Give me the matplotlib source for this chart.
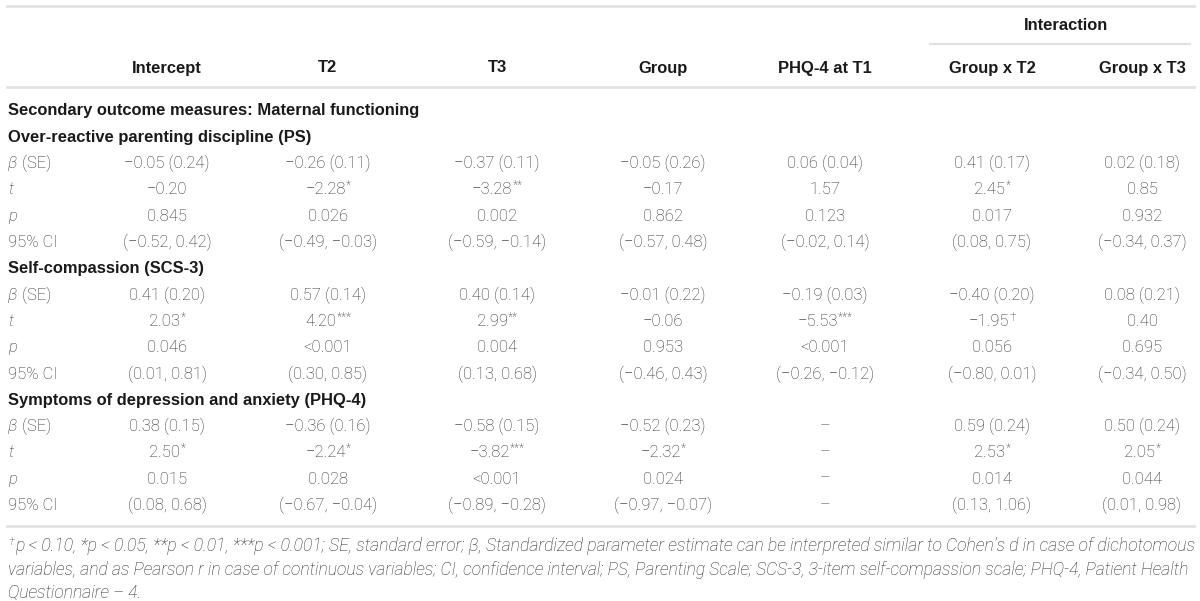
import matplotlib
matplotlib.use("Agg")
from matplotlib import pyplot as plt

# column headers
columns = ["Intercept", "T2", "T3", "Group", "PHQ-4 at T1", "Group x T2", "Group x T3"]
col_x = [167, 328, 497, 663, 825, 992, 1142]

# row labels inside each block
stat_labels = ["β (SE)", "t", "p", "95% CI"]

title_row = "Secondary outcome measures: Maternal functioning"
sections = ["Over-reactive parenting discipline (PS)",
            "Self-compassion (SCS-3)",
            "Symptoms of depression and anxiety (PHQ-4)"]

ps_beta = ["−0.05 (0.24)", "−0.26 (0.11)", "−0.37 (0.11)", "−0.05 (0.26)", "0.06 (0.04)", "0.41 (0.17)", "0.02 (0.18)"]
ps_t = ["−0.20", "−2.28*", "−3.28**", "−0.17", "1.57", "2.45*", "0.85"]
ps_p = ["0.845", "0.026", "0.002", "0.862", "0.123", "0.017", "0.932"]
ps_ci = ["(−0.52, 0.42)", "(−0.49, −0.03)", "(−0.59, −0.14)", "(−0.57, 0.48)", "(−0.02, 0.14)", "(0.08, 0.75)", "(−0.34, 0.37)"]

scs_beta = ["0.41 (0.20)", "0.57 (0.14)", "0.40 (0.14)", "−0.01 (0.22)", "−0.19 (0.03)", "−0.40 (0.20)", "0.08 (0.21)"]
scs_t = ["2.03*", "4.20***", "2.99**", "−0.06", "−5.53***", "−1.95†", "0.40"]
scs_p = ["0.046", "<0.001", "0.004", "0.953", "<0.001", "0.056", "0.695"]
scs_ci = ["(0.01, 0.81)", "(0.30, 0.85)", "(0.13, 0.68)", "(−0.46, 0.43)", "(−0.26, −0.12)", "(−0.80, 0.01)", "(−0.34, 0.50)"]

phq_beta = ["0.38 (0.15)", "−0.36 (0.16)", "−0.58 (0.15)", "−0.52 (0.23)", "–", "0.59 (0.24)", "0.50 (0.24)"]
phq_t = ["2.50*", "−2.24*", "−3.82***", "−2.32*", "–", "2.53*", "2.05*"]
phq_p = ["0.015", "0.028", "<0.001", "0.024", "–", "0.014", "0.044"]
phq_ci = ["(0.08, 0.68)", "(−0.67, −0.04)", "(−0.89, −0.28)", "(−0.97, −0.07)", "–", "(0.13, 1.06)", "(0.01, 0.98)"]

blocks = [[ps_beta, ps_t, ps_p, ps_ci],
          [scs_beta, scs_t, scs_p, scs_ci],
          [phq_beta, phq_t, phq_p, phq_ci]]

footnotes = ["p < 0.10, *p < 0.05, **p < 0.01, ***p < 0.001; SE, standard error; β, Standardized parameter estimate can be interpreted similar to Cohen’s d in case of dichotomous",
             "variables, and as Pearson r in case of continuous variables; CI, confidence interval; PS, Parenting Scale; SCS-3, 3-item self-compassion scale; PHQ-4, Patient Health",
             "Questionnaire – 4."]

W, H = 1200, 601
fig = plt.figure(figsize=(12, 6.01), dpi=100)
ax = fig.add_axes([0, 0, 1, 1])
ax.set_xlim(0, W)
ax.set_ylim(H, 0)
ax.axis("off")
renderer = fig.canvas.get_renderer()

BOLD = dict(family=["Liberation Sans", "DejaVu Sans"], fontweight="bold", color="#1a1a1a")
LIGHT = dict(family=["Roboto", "DejaVu Sans"], fontweight="light", color="#2e2e2e")
LINE_C = "#e2e2e2"
BFS = 11.9

def width_of(t):
    return t.get_window_extent(renderer).width

# rules
ax.plot([7, 1194], [6, 6], color=LINE_C, lw=2)
ax.plot([930, 1190], [44, 44], color=LINE_C, lw=1.5)
ax.plot([7, 1194], [87, 87], color=LINE_C, lw=2)
ax.plot([7, 1194], [526, 526], color=LINE_C, lw=2)

# headers
ax.text(1066, 26, "Interaction", ha="center", va="center", fontsize=BFS, **BOLD)
for x, c in zip(col_x, columns):
    ax.text(x, 68, c, ha="center", va="center", fontsize=BFS, **BOLD)

row_h = 26.3
y = 111
ax.text(8, y, title_row, ha="left", va="center", fontsize=BFS, **BOLD)

def cell(x, y, s):
    base = s.rstrip("*†")
    suf = s[len(base):]
    t = ax.text(x, y, base, ha="center", va="center", fontsize=12, **LIGHT)
    if suf:
        st = ax.text(0, y - 4, suf, ha="left", va="center", fontsize=8.5, **LIGHT)
        sw = width_of(st)
        t.set_x(x - sw / 2)
        bb = t.get_window_extent(renderer)
        st.set_x(bb.x1 + 0.5)

for sec, block in zip(sections, blocks):
    y += row_h
    ax.text(8, y, sec, ha="left", va="center", fontsize=BFS, **BOLD)
    for lab, vals in zip(stat_labels, block):
        y += row_h
        if lab == "β (SE)":
            b = ax.text(8, y, "β", ha="left", va="center", fontsize=12, fontstyle="italic", **LIGHT)
            bb = b.get_window_extent(renderer)
            ax.text(bb.x1 + 1, y, " (SE)", ha="left", va="center", fontsize=12, **LIGHT)
        elif lab in ("t", "p"):
            ax.text(8, y, lab, ha="left", va="center", fontsize=12, fontstyle="italic", **LIGHT)
        else:
            ax.text(8, y, lab, ha="left", va="center", fontsize=12, **LIGHT)
        for x, v in zip(col_x, vals):
            cell(x, y, v)

# footnote, italic, lines stretched to the full width like the reference
FN = dict(family=["Roboto", "DejaVu Sans"], fontweight="light", fontstyle="italic", color="#2e2e2e")
fy = [546, 570, 593]
dag = ax.text(8, fy[0] - 4, "†", ha="left", va="center", fontsize=8, **FN)
x0 = dag.get_window_extent(renderer).x1 + 1
fs_used = 11
for i, line in enumerate(footnotes):
    left = x0 if i == 0 else 8
    t = ax.text(left, fy[i], line, ha="left", va="center", fontsize=11, **FN)
    if i < 2:
        fs = 11 * (1192 - left) / width_of(t)
        t.set_fontsize(fs)
        fs_used = fs
    else:
        t.set_fontsize(fs_used)

fig.savefig("out.png", dpi=100)
